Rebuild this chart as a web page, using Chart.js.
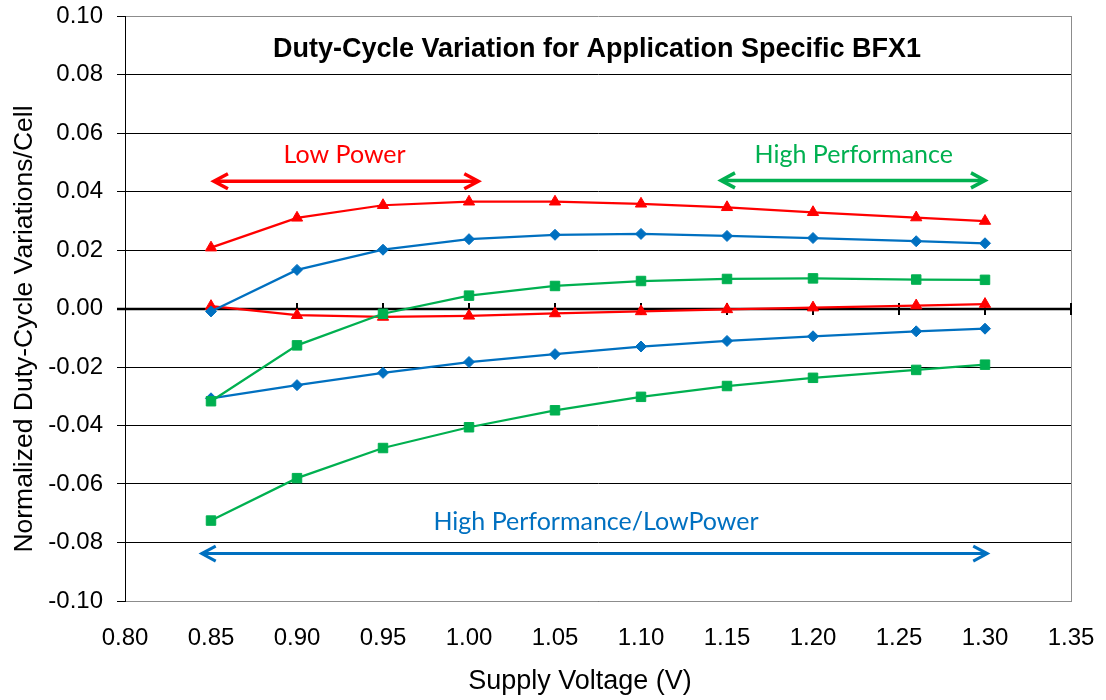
<!DOCTYPE html>
<html>
<head>
<meta charset="utf-8">
<title>Duty-Cycle Variation</title>
<script src="https://cdn.jsdelivr.net/npm/chart.js@4.4.1/dist/chart.umd.min.js"></script>
<style>
    html, body { margin: 0; padding: 0; background: #fff; }
    #wrap { width: 1106px; height: 700px; }
</style>
</head>
<body>
<div id="wrap"><canvas id="dutyChart" width="1106" height="700"></canvas></div>
<script>
// supply voltage (V) for every measured point
const voltages = [0.85, 0.90, 0.95, 1.00, 1.05, 1.10, 1.15, 1.20, 1.26, 1.30];

// normalized duty-cycle variation per cell
const lowPowerUpper = [0.0208, 0.0310, 0.0353, 0.0365, 0.0365, 0.0358, 0.0346, 0.0329, 0.0311, 0.0299];
const lowPowerLower = [0.0008, -0.0023, -0.0029, -0.0025, -0.0017, -0.0010, -0.0003, 0.0003, 0.0010, 0.0015];
const balancedUpper = [-0.0010, 0.0132, 0.0201, 0.0237, 0.0252, 0.0255, 0.0248, 0.0241, 0.0230, 0.0223];
const balancedLower = [-0.0307, -0.0262, -0.0220, -0.0183, -0.0156, -0.0130, -0.0111, -0.0095, -0.0078, -0.0069];
const highPerfUpper = [-0.0317, -0.0126, -0.0018, 0.0044, 0.0077, 0.0094, 0.0101, 0.0103, 0.0099, 0.0098];
const highPerfLower = [-0.0725, -0.0580, -0.0477, -0.0406, -0.0348, -0.0302, -0.0265, -0.0237, -0.0210, -0.0192];

// axis ranges
const xRange = [0.80, 1.35, 0.05];
const yRange = [-0.10, 0.10, 0.02];

const RED = '#FF0000';
const BLUE = '#0070C0';
const GREEN = '#00B050';
const FONT = '"Liberation Sans", Arial, sans-serif';
const NOTE_FONT = 'Lato, "Open Sans", sans-serif';

// range arrows with their captions, in data units
const ranges = [
    { label: 'Low Power', color: RED, from: 0.8517, to: 1.0054, y: 0.0435, textX: 0.9277, textY: 0.0524, width: 3.5 },
    { label: 'High Performance', color: GREEN, from: 1.1465, to: 1.3000, y: 0.0438, textX: 1.2237, textY: 0.0524, width: 3.5 },
    { label: 'High Performance/LowPower', color: BLUE, from: 0.8446, to: 1.3013, y: -0.0838, textX: 1.0738, textY: -0.0728, width: 3 },
];

const toPoints = (values) => values.map((v, i) => ({ x: voltages[i], y: v }));

const series = (values, color, style, radius) => ({
    data: toPoints(values),
    borderColor: color,
    backgroundColor: color,
    borderWidth: 2.25,
    pointStyle: style,
    pointRadius: radius,
    pointHoverRadius: radius,
    pointBorderWidth: 1,
    tension: 0,
});

const drawArrow = (ctx, x1, x2, py, color, width) => {
    const back = 14;
    const half = 7.5;
    ctx.strokeStyle = color;
    ctx.lineWidth = width;
    ctx.lineCap = 'butt';
    ctx.lineJoin = 'miter';
    ctx.beginPath();
    ctx.moveTo(x1 + 2, py);
    ctx.lineTo(x2 - 2, py);
    ctx.stroke();
    ctx.beginPath();
    ctx.moveTo(x1 + back, py - half);
    ctx.lineTo(x1, py);
    ctx.lineTo(x1 + back, py + half);
    ctx.moveTo(x2 - back, py - half);
    ctx.lineTo(x2, py);
    ctx.lineTo(x2 - back, py + half);
    ctx.stroke();
};

const framePlugin = {
    id: 'frame',
    beforeDatasetsDraw(chart) {
        const { ctx, chartArea, scales: { x, y } } = chart;
        ctx.save();

        // right edge of the plot area
        ctx.strokeStyle = '#8c8c8c';
        ctx.lineWidth = 1;
        ctx.beginPath();
        ctx.moveTo(Math.round(chartArea.right) + 0.5, chartArea.top);
        ctx.lineTo(Math.round(chartArea.right) + 0.5, chartArea.bottom);
        ctx.stroke();

        // horizontal axis crossing at zero, with its tick marks
        const y0 = Math.round(y.getPixelForValue(0));
        ctx.strokeStyle = '#000';
        ctx.lineWidth = 2.5;
        ctx.beginPath();
        ctx.moveTo(chartArea.left - 8, y0);
        ctx.lineTo(chartArea.right, y0);
        ctx.stroke();

        ctx.lineWidth = 2;
        ctx.beginPath();
        x.ticks.forEach((tick) => {
            const px = Math.round(x.getPixelForValue(tick.value));
            if (px <= chartArea.left + 1) {
                return;
            }
            ctx.moveTo(px, y0 - 6);
            ctx.lineTo(px, y0 + 6);
        });
        ctx.stroke();
        ctx.restore();
    },
    afterDatasetsDraw(chart) {
        const { ctx, scales: { x, y } } = chart;
        ctx.save();

        ranges.forEach((range) => {
            drawArrow(ctx, x.getPixelForValue(range.from), x.getPixelForValue(range.to), y.getPixelForValue(range.y), range.color, range.width);
            ctx.fillStyle = range.color;
            ctx.font = `25px ${NOTE_FONT}`;
            ctx.textAlign = 'center';
            ctx.textBaseline = 'middle';
            ctx.fillText(range.label, x.getPixelForValue(range.textX), y.getPixelForValue(range.textY));
        });

        ctx.fillStyle = '#000';
        ctx.font = `bold 27px ${FONT}`;
        ctx.textAlign = 'center';
        ctx.textBaseline = 'middle';
        ctx.fillText('Duty-Cycle Variation for Application Specific BFX1', x.getPixelForValue(1.0744), y.getPixelForValue(0.0887));
        ctx.restore();
    },
    afterDraw(chart) {
        const { ctx } = chart;
        ctx.save();
        ctx.fillStyle = '#000';
        ctx.font = `27px ${FONT}`;
        ctx.textAlign = 'center';
        ctx.textBaseline = 'middle';
        ctx.fillText('Supply Voltage (V)', 580, 682);

        ctx.font = `26.5px ${FONT}`;
        ctx.translate(25, 329);
        ctx.rotate(-Math.PI / 2);
        ctx.fillText('Normalized Duty-Cycle Variations/Cell', 0, 0);
        ctx.restore();
    },
};

const formatTick = (value) => (Math.abs(value) < 1e-9 ? '0.00' : Number(value).toFixed(2));

new Chart(document.getElementById('dutyChart'), {
    type: 'line',
    data: {
        datasets: [
            series(highPerfUpper, GREEN, 'rect', 6.7),
            series(highPerfLower, GREEN, 'rect', 6.7),
            series(balancedUpper, BLUE, 'rectRot', 5.5),
            series(balancedLower, BLUE, 'rectRot', 5.5),
            series(lowPowerUpper, RED, 'triangle', 6.5),
            series(lowPowerLower, RED, 'triangle', 6.5),
        ],
    },
    options: {
        responsive: false,
        animation: false,
        layout: { padding: { top: 16, right: 35, left: 0, bottom: 0 } },
        plugins: {
            legend: { display: false },
            tooltip: { enabled: false },
        },
        scales: {
            x: {
                type: 'linear',
                min: xRange[0],
                max: xRange[1],
                afterFit: (scale) => {
                    scale.height = 99;
                    scale.paddingLeft = 0;
                    scale.paddingRight = 0;
                },
                grid: { display: false, drawTicks: false },
                border: { display: true, color: '#8c8c8c', width: 1 },
                ticks: {
                    stepSize: xRange[2],
                    padding: 23,
                    color: '#000',
                    font: { family: FONT, size: 24 },
                    callback: formatTick,
                },
            },
            y: {
                min: yRange[0],
                max: yRange[1],
                afterFit: (scale) => {
                    scale.width = 125;
                    scale.paddingTop = 0;
                    scale.paddingBottom = 0;
                },
                grid: {
                    color: (ctx) => (ctx.tick && Math.abs(ctx.tick.value - yRange[1]) < 1e-9 ? '#8c8c8c' : '#000'),
                    lineWidth: 1,
                    tickLength: 8,
                    tickColor: '#000',
                },
                border: { display: true, color: '#000', width: 1 },
                ticks: {
                    stepSize: yRange[2],
                    padding: 14,
                    color: '#000',
                    font: { family: FONT, size: 24 },
                    callback: formatTick,
                },
            },
        },
    },
    plugins: [framePlugin],
});
</script>
</body>
</html>
